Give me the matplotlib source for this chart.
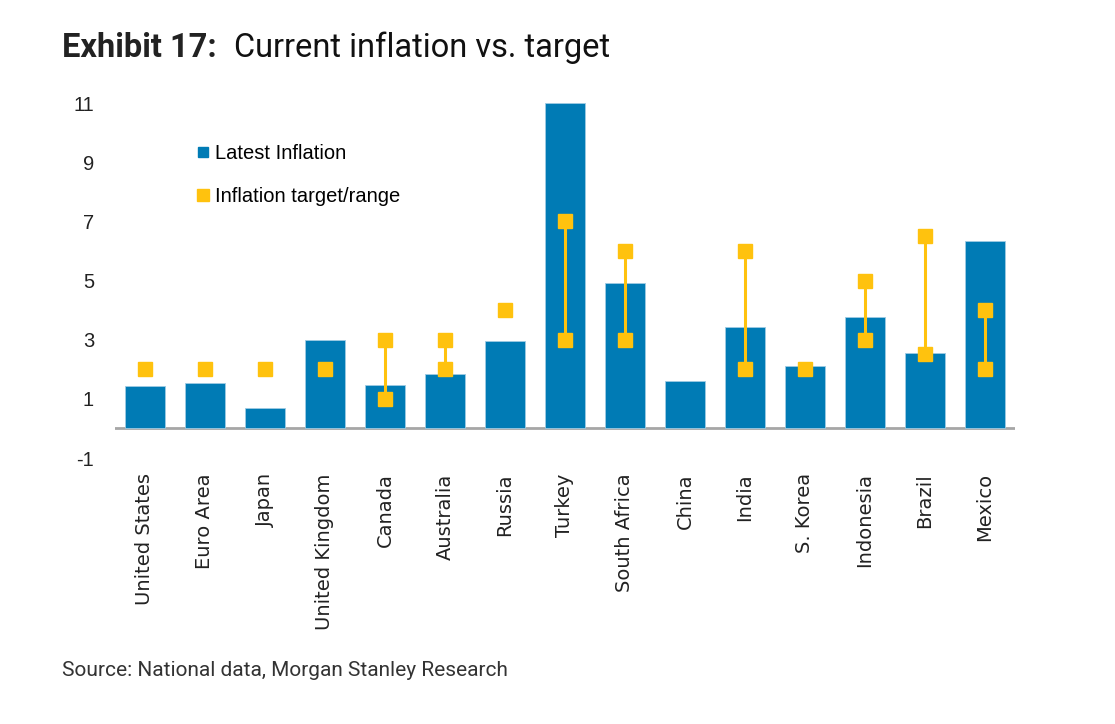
import matplotlib
matplotlib.use("Agg")
import matplotlib.pyplot as plt
from matplotlib.lines import Line2D
import numpy as np

countries = ["United States", "Euro Area", "Japan", "United Kingdom", "Canada",
             "Australia", "Russia", "Turkey", "South Africa", "China", "India",
             "S. Korea", "Indonesia", "Brazil", "Mexico"]
latest_inflation = [1.42, 1.52, 0.68, 3.0, 1.48, 1.83, 2.97, 11.0, 4.9, 1.59,
                    3.42, 2.1, 3.75, 2.54, 6.35]
# target range (low, high); equal values mean a point target, nan = none
target_low = [2, 2, 2, 2, 1, 2, 4, 3, 3, np.nan, 2, 2, 3, 2.5, 2]
target_high = [2, 2, 2, 2, 3, 3, 4, 7, 6, np.nan, 6, 2, 5, 6.5, 4]
yticks = [-1, 1, 3, 5, 7, 9, 11]

blue = "#007BB5"
gold = "#FFC20E"

plt.rcParams['font.family'] = ['Liberation Sans', 'DejaVu Sans']

fig = plt.figure(figsize=(11.15, 7.24), dpi=100)
ax = fig.add_axes([0.1031, 0.3674, 0.8072, 0.4903])

x = np.arange(len(countries))
ax.bar(x, latest_inflation, width=0.67, color=blue, edgecolor="#9fcbe3",
       linewidth=0.6, zorder=2)

# target ranges: connecting line plus end markers
for i in x:
    lo, hi = target_low[i], target_high[i]
    if np.isnan(lo):
        continue
    if hi != lo:
        ax.plot([i, i], [lo, hi], color=gold, linewidth=2.2, zorder=3)
        ax.plot([i, i], [lo, hi], 's', color=gold, markersize=9.5, zorder=4)
    else:
        ax.plot([i], [lo], 's', color=gold, markersize=9.5, zorder=4)

ax.axhline(0, color="#a6a6a6", linewidth=2, zorder=1)

ax.set_xlim(-0.5, len(countries) - 0.5)
ax.set_ylim(-1, 11)
ax.set_yticks(yticks)
ax.set_yticklabels([str(t) for t in yticks], fontsize=14.5, color="#222222")
ax.set_xticks(x)
ax.set_xticklabels(countries, rotation=90, fontsize=14, color="#222222",
                   va="top", family="DejaVu Sans")
ax.tick_params(axis="both", length=0)
ax.tick_params(axis="y", pad=15)
ax.tick_params(axis="x", pad=11)
for s in ax.spines.values():
    s.set_visible(False)

handles = [Line2D([], [], marker='s', linestyle='none', color=blue, markersize=7.5),
           Line2D([], [], marker='s', linestyle='none', color=gold, markersize=9)]
ax.legend(handles, ["Latest Inflation", "Inflation target/range"],
          loc="upper left", bbox_to_anchor=(0.071, 0.935), frameon=False,
          fontsize=14.5, handlelength=0.6, handletextpad=0.3, labelspacing=1.2)

t1 = fig.text(0.0556, 0.921, "Exhibit 17:", fontsize=23.5, fontweight="bold",
              color="#222222", va="baseline", family="Roboto")
renderer = fig.canvas.get_renderer()
bb = t1.get_window_extent(renderer)
fig.text((bb.x1 + 17) / fig.bbox.width, 0.921, "Current inflation vs. target",
         fontsize=23.5, color="#111111", va="baseline", family="Roboto")
fig.text(0.0556, 0.0663, "Source: National data, Morgan Stanley Research",
         fontsize=15, color="#333333", va="baseline", family="Roboto")

fig.savefig("out.png", dpi=100)
